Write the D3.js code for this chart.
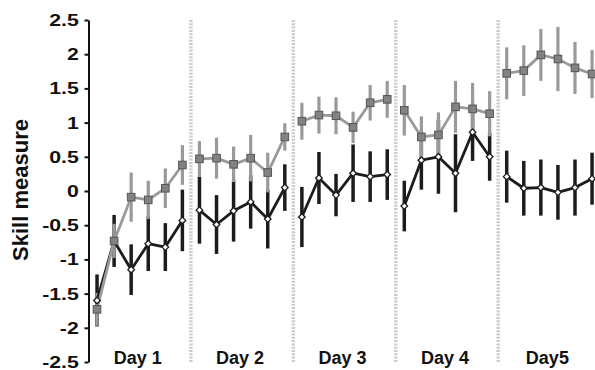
<!DOCTYPE html>
<html>
<head>
<meta charset="utf-8">
<script src="https://cdn.jsdelivr.net/npm/d3@7"></script>
<style>
  body { margin: 0; background: #fff; }
  #chart { width: 595px; height: 370px; }
  text { font-family: "Liberation Sans", Arial, sans-serif; font-weight: bold; }
</style>
</head>
<body>
<div id="chart"></div>
<script>
// chart data
const days = ["Day 1", "Day 2", "Day 3", "Day 4", "Day5"];
const perDay = 6;
const yTicks = [2.5, 2, 1.5, 1, 0.5, 0, -0.5, -1, -1.5, -2, -2.5];

// grey series (squares)
const greyValues = [-1.73, -0.73, -0.09, -0.13, 0.04, 0.38,
                     0.47, 0.48, 0.39, 0.48, 0.27, 0.79,
                     1.02, 1.11, 1.10, 0.93, 1.29, 1.34,
                     1.18, 0.79, 0.82, 1.23, 1.20, 1.13,
                     1.72, 1.76, 1.99, 1.93, 1.80, 1.71];
const greyErr = [0.24, 0.25, 0.36, 0.28, 0.29, 0.29,
                 0.26, 0.30, 0.26, 0.34, 0.29, 0.20,
                 0.27, 0.27, 0.27, 0.23, 0.26, 0.27,
                 0.37, 0.30, 0.33, 0.38, 0.38, 0.33,
                 0.38, 0.37, 0.38, 0.47, 0.38, 0.35];

// black series (diamonds)
const blackValues = [-1.60, -0.73, -1.15, -0.77, -0.82, -0.43,
                     -0.28, -0.49, -0.29, -0.16, -0.41, 0.05,
                     -0.38, 0.19, -0.06, 0.26, 0.21, 0.24,
                     -0.22, 0.45, 0.50, 0.26, 0.86, 0.50,
                      0.21, 0.04, 0.05, -0.02, 0.05, 0.18];
const blackErr = [0.38, 0.38, 0.37, 0.40, 0.35, 0.45,
                  0.49, 0.43, 0.45, 0.39, 0.43, 0.34,
                  0.44, 0.38, 0.31, 0.42, 0.37, 0.37,
                  0.37, 0.43, 0.54, 0.57, 0.42, 0.35,
                  0.38, 0.40, 0.41, 0.40, 0.41, 0.38];

/*
  SVG CANVAS
*/
const width = 595, height = 370;

const svg = d3.select("#chart")
  .append("svg")
  .attr("width", width)
  .attr("height", height);

/*
  SCALES
*/
const nPoints = days.length * perDay;

const xScale = d3.scaleLinear()
  .domain([-0.5, nPoints - 0.5])
  .range([88.5, 600.6]);

const yScale = d3.scaleLinear()
  .domain([-2.5, 2.5])
  .range([362, 20]);

// turn the arrays into point records, one group per day
function makeSeries(values, errs) {
  return days.map(function (day, di) {
    return values.slice(di * perDay, (di + 1) * perDay).map(function (v, j) {
      const i = di * perDay + j;
      return { i: i, value: v, err: errs[i] };
    });
  });
}
const greySeries = makeSeries(greyValues, greyErr);
const blackSeries = makeSeries(blackValues, blackErr);

/*
  DAY SEPARATORS (dotted)
*/
svg.selectAll(".sep")
  .data(days.slice(1))
  .enter()
  .append("line")
  .attr("class", "sep")
  .attr("x1", function (d, i) { return xScale((i + 1) * perDay - 0.5); })
  .attr("x2", function (d, i) { return xScale((i + 1) * perDay - 0.5); })
  .attr("y1", yScale(2.5))
  .attr("y2", yScale(-2.5))
  .attr("stroke", "#cccccc")
  .attr("stroke-width", 3.5)
  .attr("stroke-dasharray", "2,1.3");

/*
  Y AXIS
*/
const yAxis = svg.append("g")
  .attr("transform", "translate(88.5,0)")
  .call(d3.axisLeft(yScale)
    .tickValues(yTicks)
    .tickFormat(function (d) { return String(d); })
    .tickSize(4)
    .tickSizeOuter(0));

yAxis.select(".domain").attr("stroke", "#111").attr("stroke-width", 2);
yAxis.selectAll(".tick line").attr("stroke", "#111").attr("stroke-width", 2);
yAxis.selectAll(".tick text")
  .attr("x", -7.8)
  .attr("transform", "scale(1.25,1)")
  .attr("fill", "#111")
  .style("font-size", "17px")
  .style("font-family", "'Liberation Sans', Arial, sans-serif")
  .style("font-weight", "bold");

svg.append("text")
  .attr("x", -190)
  .attr("y", 27.5)
  .attr("transform", "rotate(-90)")
  .attr("text-anchor", "middle")
  .attr("fill", "#111")
  .style("font-size", "22px")
  .text("Skill measure");

/*
  DAY LABELS
*/
svg.selectAll(".dayLabel")
  .data(days)
  .enter()
  .append("text")
  .attr("class", "dayLabel")
  .attr("x", function (d, i) { return xScale(i * perDay + 2.5) - 2; })
  .attr("y", 364)
  .attr("text-anchor", "middle")
  .attr("fill", "#111")
  .style("font-size", "18px")
  .text(function (d) { return d; });

/*
  MARKS
*/
const line = d3.line()
  .x(function (d) { return xScale(d.i); })
  .y(function (d) { return yScale(d.value); });

function errorBars(series, color, w) {
  svg.append("g")
    .selectAll("line")
    .data(series.flat())
    .enter()
    .append("line")
    .attr("x1", function (d) { return xScale(d.i); })
    .attr("x2", function (d) { return xScale(d.i); })
    .attr("y1", function (d) { return yScale(d.value + d.err); })
    .attr("y2", function (d) { return yScale(d.value - d.err); })
    .attr("stroke", color)
    .attr("stroke-width", w);
}

function lines(series, color, w) {
  svg.append("g")
    .selectAll("path")
    .data(series)
    .enter()
    .append("path")
    .attr("d", function (d) { return line(d); })
    .attr("fill", "none")
    .attr("stroke", color)
    .attr("stroke-width", w)
    .attr("stroke-linejoin", "round");
}

errorBars(blackSeries, "#1c1c1c", 3.5);
errorBars(greySeries, "#9a9a9a", 3.2);
lines(blackSeries, "#1c1c1c", 2.8);
lines(greySeries, "#9a9a9a", 2.8);

// diamonds
svg.append("g")
  .selectAll("path")
  .data(blackSeries.flat())
  .enter()
  .append("path")
  .attr("transform", function (d) { return `translate(${xScale(d.i)},${yScale(d.value)})`; })
  .attr("d", "M0,-3.3L3.3,0L0,3.3L-3.3,0Z")
  .attr("fill", "#fff")
  .attr("stroke", "#1c1c1c")
  .attr("stroke-width", 1.3);

// squares
svg.append("g")
  .selectAll("rect")
  .data(greySeries.flat())
  .enter()
  .append("rect")
  .attr("x", function (d) { return xScale(d.i) - 3.8; })
  .attr("y", function (d) { return yScale(d.value) - 3.8; })
  .attr("width", 7.6)
  .attr("height", 7.6)
  .attr("fill", "#828282")
  .attr("stroke", "#555")
  .attr("stroke-width", 1);
</script>
</body>
</html>
